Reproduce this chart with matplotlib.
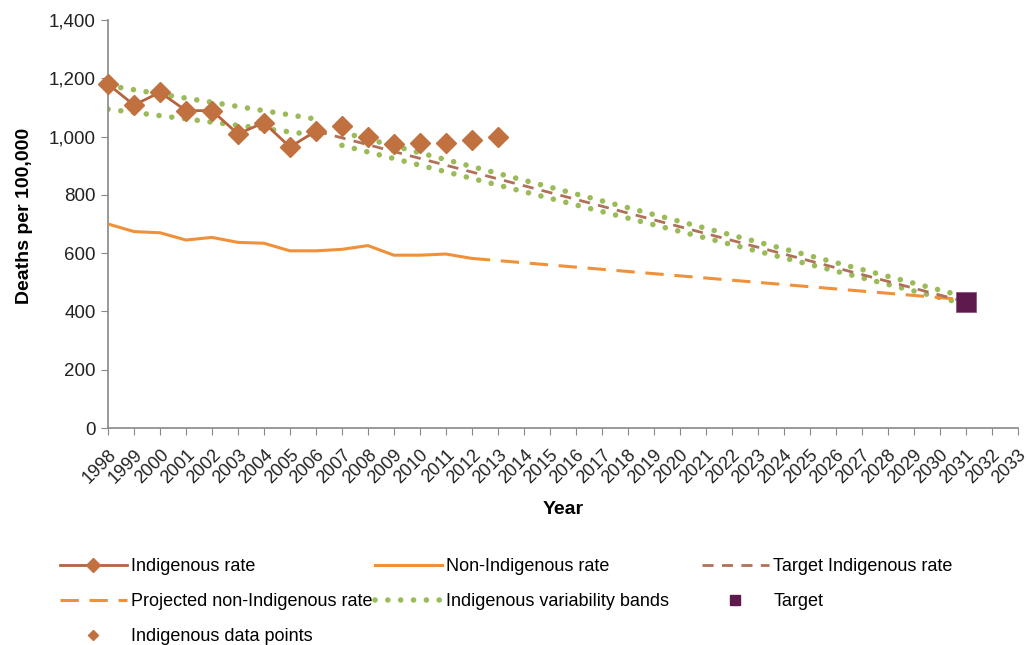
import matplotlib
matplotlib.use('Agg')
import matplotlib.pyplot as plt
from matplotlib.lines import Line2D
from matplotlib.ticker import FuncFormatter

plt.rcParams['font.family'] = ['Liberation Sans', 'DejaVu Sans']

# data
ind_years = [1998, 1999, 2000, 2001, 2002, 2003, 2004, 2005, 2006]
ind_rate = [1180, 1108, 1152, 1089, 1089, 1009, 1048, 964, 1019]

pts_years = [2007, 2008, 2009, 2010, 2011, 2012, 2013]
ind_points = [1037, 1000, 975, 979, 977, 988, 1000]

nonind_years = list(range(1998, 2013))
nonind_rate = [700, 674, 670, 645, 654, 637, 634, 608, 608, 613, 626, 593, 593, 597, 582]

proj_years = [2012, 2031]
proj_rate = [582, 440]

target_line_years = [2006, 2031]
target_line_rate = [1019, 433]

band_early_years = [1998, 2006]
band_early_upper = [1175, 1060]
band_early_lower = [1094, 1005]

band_late_years = [2007, 2031]
band_late_upper = [1015, 450]
band_late_lower = [970, 425]

target_year = [2031]
target_value = [433]

c_ind = '#B5643D'
c_mark = '#C0713F'
c_non = '#F0913A'
c_tgt = '#B0705A'
c_band = '#9BBB59'
c_sq = '#5E1A4C'

fig = plt.figure(figsize=(10.3, 6.45), dpi=100)
ax = fig.add_axes([0.1049, 0.3364, 0.883, 0.6326])

dots = (0, (0.01, 2.3))
band_kw = dict(color=c_band, lw=4, linestyle=dots, dash_capstyle='round', zorder=2)
ax.plot(band_early_years, band_early_upper, **band_kw)
ax.plot(band_early_years, band_early_lower, **band_kw)
ax.plot(band_late_years, band_late_upper, **band_kw)
ax.plot(band_late_years, band_late_lower, **band_kw)

ax.plot(proj_years, proj_rate, color=c_non, lw=2.2, linestyle=(0, (6, 3.5)), zorder=3)
ax.plot(nonind_years, nonind_rate, color=c_non, lw=2.2, zorder=3)
ax.plot(target_line_years, target_line_rate, color=c_tgt, lw=2, linestyle=(0, (4, 3)), zorder=3)

ax.plot(ind_years, ind_rate, color=c_ind, lw=2, marker='D', ms=10, mfc=c_mark, mec=c_mark,
        zorder=4, clip_on=False)
ax.plot(pts_years, ind_points, linestyle='none', marker='D', ms=10, mfc=c_mark, mec=c_mark, zorder=4)
ax.plot(target_year, target_value, linestyle='none', marker='s', ms=14, mfc=c_sq, mec='#8a4a7a',
        mew=0.5, zorder=5)

ax.set_xlim(1998, 2033)
ax.set_ylim(0, 1400)
ax.set_xticks(range(1998, 2034))
ax.set_xticklabels([str(y) for y in range(1998, 2034)], rotation=45, ha='right',
                   rotation_mode='anchor', fontsize=13)
ax.set_yticks(range(0, 1401, 200))
ax.yaxis.set_major_formatter(FuncFormatter(lambda v, p: f'{int(v):,}'))
ax.tick_params(axis='y', labelsize=13.5, length=5, color='#888888', pad=4, labelcolor='#222222')
ax.tick_params(axis='x', length=5, color='#888888', pad=8, labelcolor='#222222')
for s in ['top', 'right']:
    ax.spines[s].set_visible(False)
for s in ['left', 'bottom']:
    ax.spines[s].set_color('#888888')
    ax.spines[s].set_linewidth(1.2)

ax.set_xlabel('Year', fontsize=14, fontweight='bold', labelpad=10)
ax.set_ylabel('Deaths per 100,000', fontsize=14, fontweight='bold')
ax.yaxis.set_label_coords(-0.082, 0.52)

# legend proxies
h_ind = Line2D([], [], color=c_ind, lw=2, marker='D', ms=7, mfc=c_mark, mec=c_mark)
h_non = Line2D([], [], color=c_non, lw=2.2)
h_tgt = Line2D([], [], color=c_tgt, lw=2, linestyle=(0, (4, 3)))
h_proj = Line2D([], [], color=c_non, lw=2.2, linestyle=(0, (6, 3.5)))
h_band = Line2D([], [], **band_kw)
h_sq = Line2D([], [], linestyle='none', marker='s', ms=7, mfc=c_sq, mec=c_sq)
h_pts = Line2D([], [], linestyle='none', marker='D', ms=5, mfc=c_mark, mec=c_mark)

columns = [
    (60, [h_ind, h_proj, h_pts],
     ['Indigenous rate', 'Projected non-Indigenous rate', 'Indigenous data points']),
    (375, [h_non, h_band], ['Non-Indigenous rate', 'Indigenous variability bands']),
    (702, [h_tgt, h_sq], ['Target Indigenous rate', 'Target']),
]
for x0, hs, ls in columns:
    fig.legend(hs, ls, loc='upper left', bbox_to_anchor=(x0 / 1030, 1 - 558 / 645),
               frameon=False, fontsize=13, handlelength=3.7, handletextpad=0.25,
               labelspacing=1.0, borderpad=0, borderaxespad=0)

fig.savefig('out.png', dpi=100)
